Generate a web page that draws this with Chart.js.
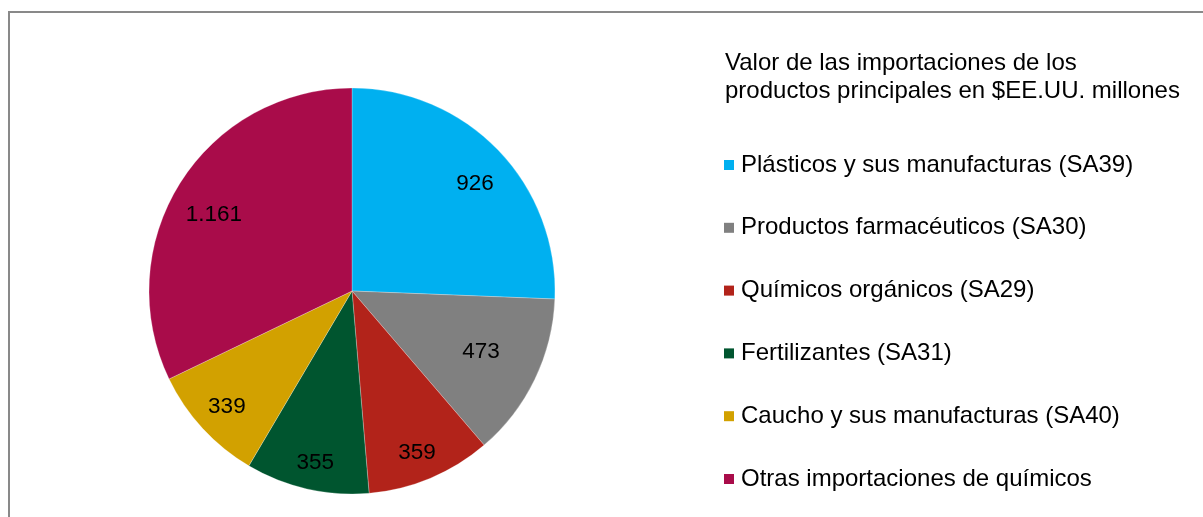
<!DOCTYPE html>
<html>
<head>
<meta charset="utf-8">
<script src="https://cdn.jsdelivr.net/npm/chart.js@4.4.1/dist/chart.umd.min.js"></script>
<style>
  html, body { margin: 0; padding: 0; background: #ffffff; }
  #wrap { width: 1203px; height: 517px; position: relative; }
  canvas { display: block; }
</style>
</head>
<body>
<div id="wrap"><canvas id="c" width="1203" height="517"></canvas></div>
<script>
// ---- data ----
const categories = [
  "Plásticos y sus manufacturas (SA39)",
  "Productos farmacéuticos (SA30)",
  "Químicos orgánicos (SA29)",
  "Fertilizantes (SA31)",
  "Caucho y sus manufacturas (SA40)",
  "Otras importaciones de químicos"
];
const values = [926, 473, 359, 355, 339, 1161];
const legendTitle = [
  "Valor de las importaciones de los",
  "productos principales en $EE.UU. millones"
];

// ---- style ----
const colors = ["#00B0F0", "#808080", "#B2231A", "#00552F", "#D2A100", "#A90C4A"];
const labelRadius = [0.806, 0.70, 0.855, 0.862, 0.837, 0.78];
const labelAngleFrac = [0.528, 0.48, 0.52, 0.48, 0.50, 0.475];
const FONT = "'Liberation Sans', Arial, sans-serif";

function fmt(v) {
  return String(v).replace(/\B(?=(\d{3})+(?!\d))/g, ".");
}

const framePlugin = {
  id: 'frame',
  beforeDraw(chart) {
    const ctx = chart.ctx;
    ctx.save();
    ctx.fillStyle = '#ffffff';
    ctx.fillRect(0, 0, chart.width, chart.height);
    ctx.strokeStyle = '#898989';
    ctx.lineWidth = 2;
    ctx.strokeRect(9, 12, 1300, 600);
    ctx.restore();
  }
};

const labelsPlugin = {
  id: 'sliceLabels',
  afterDatasetsDraw(chart) {
    const ctx = chart.ctx;
    const meta = chart.getDatasetMeta(0);
    ctx.save();
    ctx.font = "22.5px " + FONT;
    ctx.fillStyle = '#000000';
    ctx.textAlign = 'center';
    ctx.textBaseline = 'middle';
    meta.data.forEach((arc, i) => {
      const p = arc.getProps(['x', 'y', 'startAngle', 'endAngle', 'outerRadius'], true);
      const a = p.startAngle + (p.endAngle - p.startAngle) * labelAngleFrac[i];
      const r = p.outerRadius * labelRadius[i];
      ctx.fillText(fmt(values[i]), p.x + r * Math.cos(a), p.y + r * Math.sin(a) + 1);
    });
    ctx.restore();
  }
};

const legendPlugin = {
  id: 'sideLegend',
  afterDraw(chart) {
    const ctx = chart.ctx;
    ctx.save();
    ctx.font = "24px " + FONT;
    ctx.fillStyle = '#000000';
    ctx.textAlign = 'left';
    ctx.textBaseline = 'middle';
    legendTitle.forEach((t, i) => ctx.fillText(t, 725, 63 + i * 28));
    const ds = chart.data.datasets[0];
    chart.data.labels.forEach((lab, i) => {
      const y = 165 + i * 62.8;
      ctx.fillStyle = ds.backgroundColor[i];
      ctx.fillRect(724, y - 5, 10, 10);
      ctx.fillStyle = '#000000';
      ctx.fillText(lab, 741, y);
    });
    ctx.restore();
  }
};

new Chart(document.getElementById('c'), {
  type: 'pie',
  data: {
    labels: categories,
    datasets: [{
      data: values,
      backgroundColor: colors,
      borderColor: 'rgba(255,255,255,0.5)',
      borderWidth: 0.5,
      hoverOffset: 0,
      radius: 203
    }]
  },
  options: {
    responsive: false,
    animation: false,
    events: [],
    layout: { padding: { left: 149, right: 648, top: 88, bottom: 23 } },
    plugins: {
      legend: { display: false },
      tooltip: { enabled: false },
      title: { display: false }
    }
  },
  plugins: [framePlugin, labelsPlugin, legendPlugin]
});
</script>
</body>
</html>
